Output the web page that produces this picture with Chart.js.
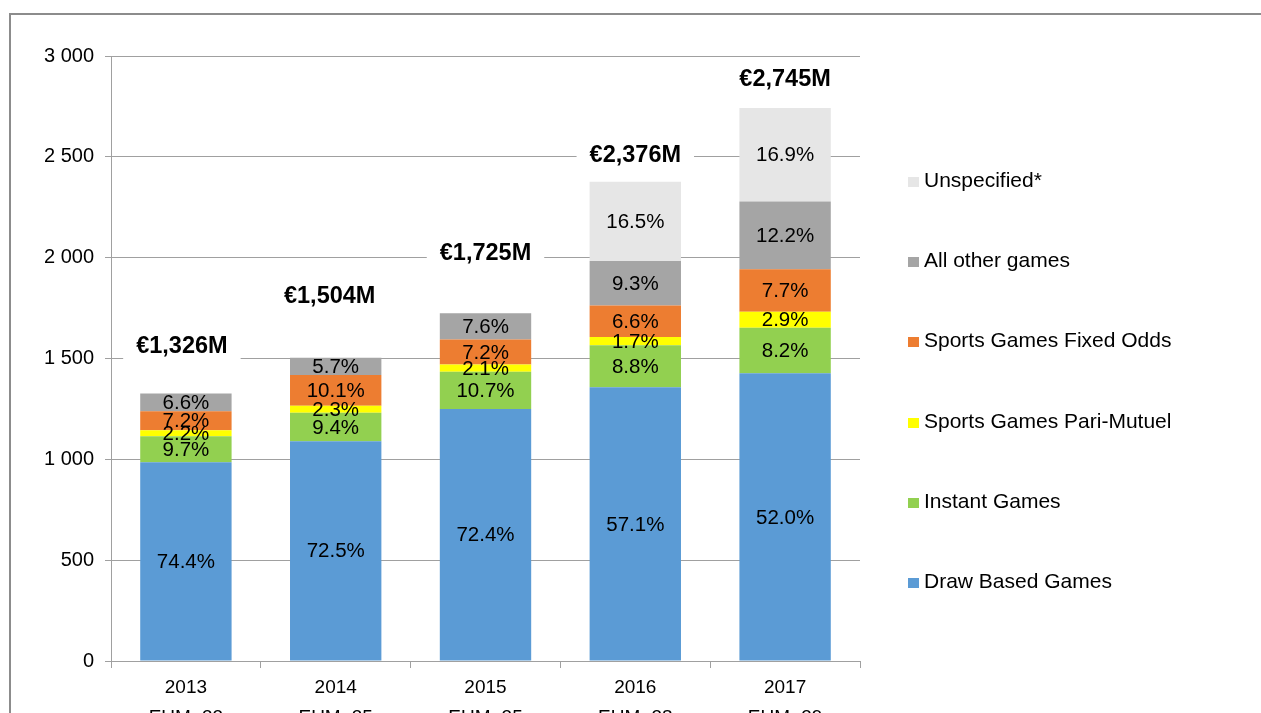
<!DOCTYPE html>
<html lang="en">
<head>
    <meta charset="UTF-8">
    <title>Lottery revenue by game type</title>
    <script src="https://cdn.jsdelivr.net/npm/chart.js@4/dist/chart.umd.min.js"></script>
    <style>
        body {
            margin: 0;
            padding: 0;
            background-color: #ffffff;
            overflow: hidden;
            font-family: 'Liberation Sans', Arial, sans-serif;
        }
        .frame {
            position: absolute;
            left: 9px;
            top: 13px;
            width: 2000px;
            height: 2000px;
            border: 2px solid #8c8c8c;
        }
        .chart-container {
            position: absolute;
            left: 0;
            top: 0;
            width: 1261px;
            height: 760px;
        }
        #legend {
            position: absolute;
            left: 908px;
            top: 170px;
            margin: 0;
            padding: 0;
            list-style: none;
        }
        #legend li {
            height: 20px;
            line-height: 20px;
            margin-bottom: 60.2px;
            font-size: 21px;
            color: #000000;
            white-space: nowrap;
        }
        #legend .box {
            display: inline-block;
            width: 11px;
            height: 10px;
            margin-right: 5px;
            vertical-align: 0px;
        }
    </style>
</head>
<body>
    <div class="frame"></div>
    <div class="chart-container">
        <canvas id="revenue-chart"></canvas>
    </div>
    <ul id="legend"></ul>

    <script>
        // Données
        const years = [['2013', 'EUM=33'], ['2014', 'EUM=35'], ['2015', 'EUM=35'], ['2016', 'EUM=38'], ['2017', 'EUM=39']];
        const totals = [1326, 1504, 1725, 2376, 2745];
        const totalLabels = ['€1,326M', '€1,504M', '€1,725M', '€2,376M', '€2,745M'];

        const drawBased = [986, 1090, 1249, 1357, 1427];
        const instant = [129, 141, 185, 209, 225];
        const pariMutuel = [29, 35, 36, 40, 80];
        const fixedOdds = [95, 152, 124, 157, 211];
        const otherGames = [88, 86, 131, 221, 335];
        const unspecified = [null, null, null, 392, 464];

        const drawPct = ['74.4%', '72.5%', '72.4%', '57.1%', '52.0%'];
        const instantPct = ['9.7%', '9.4%', '10.7%', '8.8%', '8.2%'];
        const pariPct = ['2.2%', '2.3%', '2.1%', '1.7%', '2.9%'];
        const fixedPct = ['7.2%', '10.1%', '7.2%', '6.6%', '7.7%'];
        const otherPct = ['6.6%', '5.7%', '7.6%', '9.3%', '12.2%'];
        const unspecPct = [null, null, null, '16.5%', '16.9%'];

        const yTicks = [0, 500, 1000, 1500, 2000, 2500, 3000];

        Chart.defaults.font.family = "'Liberation Sans', Arial, sans-serif";
        Chart.defaults.color = '#000000';

        // Pourcentages au centre de chaque segment
        const segmentLabels = {
            id: 'segmentLabels',
            afterDatasetsDraw(chart) {
                const ctx = chart.ctx;
                ctx.save();
                ctx.font = "20.5px 'Liberation Sans', Arial, sans-serif";
                ctx.fillStyle = '#000000';
                ctx.textAlign = 'center';
                ctx.textBaseline = 'middle';
                chart.data.datasets.forEach((ds, d) => {
                    const meta = chart.getDatasetMeta(d);
                    meta.data.forEach((bar, i) => {
                        const txt = ds.pctLabels[i];
                        if (!txt || ds.data[i] == null) return;
                        ctx.fillText(txt, bar.x, (bar.y + bar.base) / 2 + 1);
                    });
                });
                ctx.restore();
            }
        };

        // Totaux en gras au-dessus des barres
        const totalGaps = [48, 62, 61, 27, 29];
        const totalShift = [-4, -6, 0, 0, 0];
        const totalsPlugin = {
            id: 'totalsPlugin',
            afterDatasetsDraw(chart) {
                const ctx = chart.ctx;
                const meta = chart.getDatasetMeta(0);
                ctx.save();
                ctx.font = "bold 23.5px 'Liberation Sans', Arial, sans-serif";
                ctx.textAlign = 'center';
                ctx.textBaseline = 'middle';
                totals.forEach((t, i) => {
                    const x = meta.data[i].x + totalShift[i];
                    const y = chart.scales.y.getPixelForValue(t) - totalGaps[i];
                    const w = ctx.measureText(totalLabels[i]).width;
                    ctx.fillStyle = '#ffffff';
                    ctx.fillRect(x - w / 2 - 13, y - 14, w + 26, 28);
                    ctx.fillStyle = '#000000';
                    ctx.fillText(totalLabels[i], x, y + 1);
                });
                ctx.restore();
            }
        };

        const colors = ['#5b9bd5', '#92d050', '#ffff00', '#ed7d31', '#a5a5a5', '#e6e6e6'];

        const chart = new Chart(document.getElementById('revenue-chart'), {
            type: 'bar',
            data: {
                labels: years,
                datasets: [
                    { label: 'Draw Based Games', data: drawBased, pctLabels: drawPct, backgroundColor: colors[0] },
                    { label: 'Instant Games', data: instant, pctLabels: instantPct, backgroundColor: colors[1] },
                    { label: 'Sports Games Pari-Mutuel', data: pariMutuel, pctLabels: pariPct, backgroundColor: colors[2] },
                    { label: 'Sports Games Fixed Odds', data: fixedOdds, pctLabels: fixedPct, backgroundColor: colors[3] },
                    { label: 'All other games', data: otherGames, pctLabels: otherPct, backgroundColor: colors[4] },
                    { label: 'Unspecified*', data: unspecified, pctLabels: unspecPct, backgroundColor: colors[5] }
                ]
            },
            options: {
                responsive: true,
                maintainAspectRatio: false,
                animation: false,
                layout: {
                    padding: { top: 56, left: 0, right: 401, bottom: 0 }
                },
                datasets: {
                    bar: {
                        barPercentage: 0.61,
                        categoryPercentage: 1.0,
                        borderWidth: 0
                    }
                },
                scales: {
                    x: {
                        stacked: true,
                        offset: true,
                        afterFit(scale) { scale.height = 99; },
                        grid: {
                            display: true,
                            offset: true,
                            drawOnChartArea: false,
                            tickLength: 7,
                            color: '#a0a0a0'
                        },
                        border: { display: true, color: '#a0a0a0', width: 1 },
                        ticks: {
                            font: { size: 19, lineHeight: 1.58 },
                            padding: 5,
                            maxRotation: 0
                        }
                    },
                    y: {
                        stacked: true,
                        min: 0,
                        max: 3000,
                        afterFit(scale) { scale.width = 111; },
                        afterBuildTicks(scale) {
                            scale.ticks = yTicks.map(v => ({ value: v }));
                        },
                        grid: {
                            color: '#a0a0a0',
                            tickLength: 6
                        },
                        border: { display: true, color: '#a0a0a0', width: 1 },
                        ticks: {
                            font: { size: 20 },
                            padding: 11,
                            callback: function(value) {
                                return String(value).replace(/\B(?=(\d{3})+(?!\d))/g, ' ');
                            }
                        }
                    }
                },
                plugins: {
                    legend: { display: false },
                    tooltip: { enabled: false }
                }
            },
            plugins: [segmentLabels, totalsPlugin]
        });

        // Légende HTML, ordre inversé comme dans Excel
        const legendEl = document.getElementById('legend');
        chart.data.datasets.slice().reverse().forEach(ds => {
            const li = document.createElement('li');
            const box = document.createElement('span');
            box.className = 'box';
            box.style.backgroundColor = ds.backgroundColor;
            li.appendChild(box);
            li.appendChild(document.createTextNode(ds.label));
            legendEl.appendChild(li);
        });
    </script>
</body>
</html>
